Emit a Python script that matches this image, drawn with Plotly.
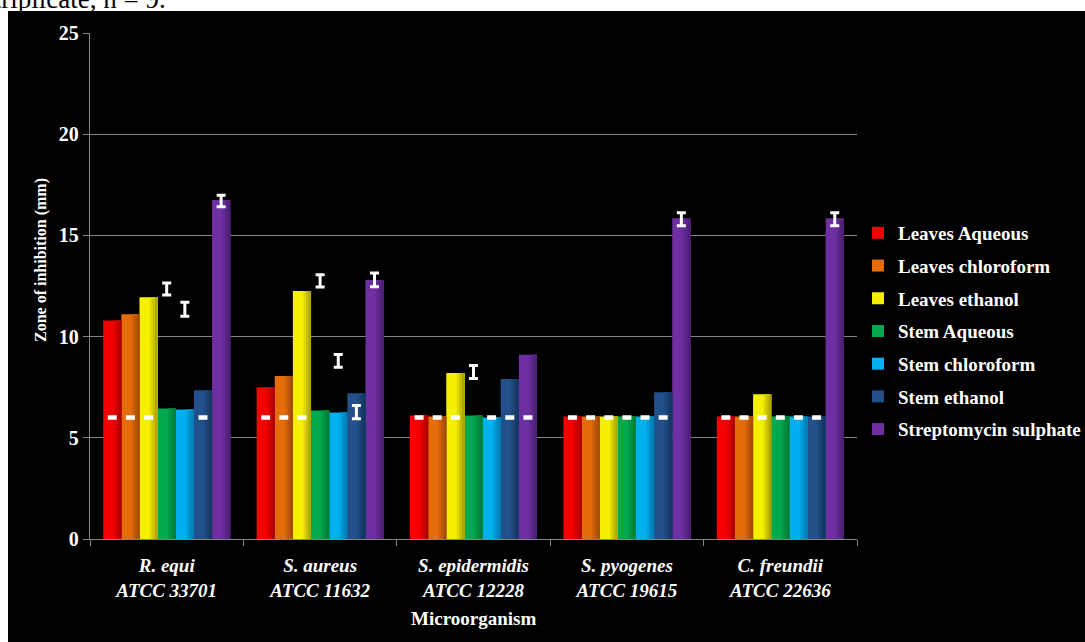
import plotly.graph_objects as go

# Categories (microorganisms) shown on the x axis
categories = ["R. equi", "S. aureus", "S. epidermidis", "S. pyogenes", "C. freundii"]
strains = ["ATCC 33701", "ATCC 11632", "ATCC 12228", "ATCC 19615", "ATCC 22636"]

# Extract names, bar colours and the darker shade used on the bar edges
series_names = ["Leaves Aqueous", "Leaves chloroform", "Leaves ethanol",
                "Stem Aqueous", "Stem chloroform", "Stem ethanol",
                "Streptomycin sulphate"]
series_colors = ["#F50000", "#E46C0A", "#F5F000", "#00A84E", "#00B0F0", "#22508A", "#6E2FA2"]
edge_colors = ["#A80000", "#A04808", "#A8A000", "#007A38", "#0078B0", "#15345C", "#4A1E70"]

# Mean zone of inhibition (mm)
leaves_aqueous = [10.8, 7.5, 6.1, 6.05, 6.05]
leaves_chloroform = [11.1, 8.05, 6.05, 6.05, 6.05]
leaves_ethanol = [11.95, 12.25, 8.2, 6.05, 7.15]
stem_aqueous = [6.45, 6.35, 6.1, 6.05, 6.05]
stem_chloroform = [6.4, 6.25, 6.0, 6.05, 6.05]
stem_ethanol = [7.35, 7.2, 7.9, 7.25, 6.05]
streptomycin = [16.75, 12.8, 9.1, 15.85, 15.85]

# Error bar centres and half-ranges (mm)
leaves_aqueous_err_at = [6.0, 6.0, 6.0, 6.0, 6.0]
leaves_aqueous_err = [0.04, 0.04, 0.04, 0.04, 0.04]
leaves_chloroform_err_at = [6.0, 6.0, 6.0, 6.0, 6.0]
leaves_chloroform_err = [0.04, 0.04, 0.04, 0.04, 0.04]
leaves_ethanol_err_at = [6.0, 6.0, 6.0, 6.0, 6.0]
leaves_ethanol_err = [0.04, 0.04, 0.04, 0.04, 0.04]
stem_aqueous_err_at = [12.35, 12.75, 8.25, 6.0, 6.0]
stem_aqueous_err = [0.3, 0.3, 0.32, 0.04, 0.04]
stem_chloroform_err_at = [11.35, 8.8, 6.0, 6.0, 6.0]
stem_chloroform_err = [0.35, 0.32, 0.04, 0.04, 0.04]
stem_ethanol_err_at = [6.0, 6.27, 6.0, 6.0, 6.0]
stem_ethanol_err = [0.04, 0.33, 0.04, 0.04, 0.04]
streptomycin_err_at = [16.7, 12.8, 6.0, 15.8, 15.8]
streptomycin_err = [0.28, 0.34, 0.04, 0.32, 0.32]

values = [leaves_aqueous, leaves_chloroform, leaves_ethanol, stem_aqueous,
          stem_chloroform, stem_ethanol, streptomycin]
err_at = [leaves_aqueous_err_at, leaves_chloroform_err_at, leaves_ethanol_err_at,
          stem_aqueous_err_at, stem_chloroform_err_at, stem_ethanol_err_at,
          streptomycin_err_at]
errs = [leaves_aqueous_err, leaves_chloroform_err, leaves_ethanol_err,
        stem_aqueous_err, stem_chloroform_err, stem_ethanol_err, streptomycin_err]

W, H = 1085, 642
L, R, T, B = 90, 228, 33, 103
PW, PH = W - L - R, H - T - B
BARGAP = 0.172


def px_x(px):
    return (px - L) / PW


def px_y(py):
    return (H - B - py) / PH


def blend(c1, c2, t):
    a = [int(c1[i:i + 2], 16) for i in (1, 3, 5)]
    b = [int(c2[i:i + 2], 16) for i in (1, 3, 5)]
    return "#" + "".join(f"{round(x + (y - x) * t):02x}" for x, y in zip(a, b))


SERIF = "Liberation Serif, Times New Roman, serif"
GRID = "#858585"

x_labels = [f"{c}<br>{s}" for c, s in zip(categories, strains)]

fig = go.Figure()
for name, color, vals in zip(series_names, series_colors, values):
    fig.add_trace(go.Bar(
        x=x_labels, y=vals, name=name, marker=dict(color=color, line=dict(width=0)),
        offsetgroup=name, legendgroup=name,
    ))

# Shaded right-hand edge of each bar (drawn as thin overlays inside the bar's slot)
slot = (1 - BARGAP) / len(series_names)
shade_steps = [(0.42, 0.3), (0.28, 0.6), (0.14, 0.9)]
for j, (name, color, edge, vals) in enumerate(zip(series_names, series_colors,
                                                  edge_colors, values)):
    left = -0.5 * (1 - BARGAP) + j * slot
    for frac, mix in shade_steps:
        fig.add_trace(go.Bar(
            x=x_labels, y=vals, showlegend=False, hoverinfo="skip",
            offset=left + (1 - frac) * slot, width=frac * slot,
            marker=dict(color=blend(color, edge, mix), line=dict(width=0)),
        ))

# Error bars drawn over the bars on transparent carriers in the same slots
for name, at, e in zip(series_names, err_at, errs):
    fig.add_trace(go.Bar(
        x=x_labels, y=at, offsetgroup=name, showlegend=False, hoverinfo="skip",
        marker=dict(color="rgba(0,0,0,0)", line=dict(width=0)),
        error_y=dict(type="data", array=e, symmetric=True, color="white",
                     thickness=3, width=4.5),
    ))

fig.update_layout(
    width=W, height=H,
    margin=dict(l=L, r=R, t=T, b=B, autoexpand=False),
    paper_bgcolor="black", plot_bgcolor="black",
    barmode="group", bargap=BARGAP, bargroupgap=0,
    font=dict(family=SERIF, color="white"),
    showlegend=True,
    legend=dict(
        x=px_x(858), y=px_y(214), xanchor="left", yanchor="top",
        bgcolor="rgba(0,0,0,0)", tracegroupgap=5,
        font=dict(family=SERIF, size=19, color="white", weight="bold"),
    ),
    xaxis=dict(
        type="category", tickson="boundaries", ticks="outside", ticklen=6,
        tickcolor=GRID, tickwidth=1.3, showline=True, linecolor=GRID, linewidth=1.3,
        showgrid=False, ticklabelstandoff=9,
        tickfont=dict(family=SERIF, size=19, color="white", weight="bold", style="italic"),
    ),
    yaxis=dict(
        range=[0, 25], dtick=5, tick0=0, showgrid=True, gridcolor=GRID, gridwidth=1.3,
        zeroline=False, showline=True, linecolor=GRID, linewidth=1.3,
        ticks="outside", ticklen=6, tickcolor=GRID, tickwidth=1.3,
        tickfont=dict(family=SERIF, size=20, color="white", weight="bold"),
    ),
    shapes=[
        # white page margin around the chart panel
        dict(type="rect", xref="paper", yref="paper", layer="below",
             x0=px_x(0), x1=px_x(W), y0=px_y(11), y1=px_y(0),
             fillcolor="white", line=dict(width=0)),
        dict(type="rect", xref="paper", yref="paper", layer="below",
             x0=px_x(0), x1=px_x(8), y0=px_y(H), y1=px_y(0),
             fillcolor="white", line=dict(width=0)),
    ],
    annotations=[
        dict(text="Zone of inhibition (mm)", textangle=-90, showarrow=False,
             xref="paper", yref="paper", x=px_x(41), y=px_y(260),
             xanchor="center", yanchor="middle",
             font=dict(family=SERIF, size=16, color="white", weight="bold")),
        dict(text="Microorganism", showarrow=False,
             xref="paper", yref="paper", x=px_x(473), y=px_y(618),
             xanchor="center", yanchor="middle",
             font=dict(family=SERIF, size=19, color="white", weight="bold")),
        dict(text="in triplicate, n = 9.", showarrow=False,
             xref="paper", yref="paper", x=px_x(168), y=px_y(16),
             xanchor="right", yanchor="bottom",
             font=dict(family=SERIF, size=27, color="black")),
    ],
)

fig.write_html(
    "out.html",
    post_script=(
        "document.documentElement.style.background='black';"
        "document.body.style.margin='0';"
        "document.body.style.background='black';"
    ),
)
